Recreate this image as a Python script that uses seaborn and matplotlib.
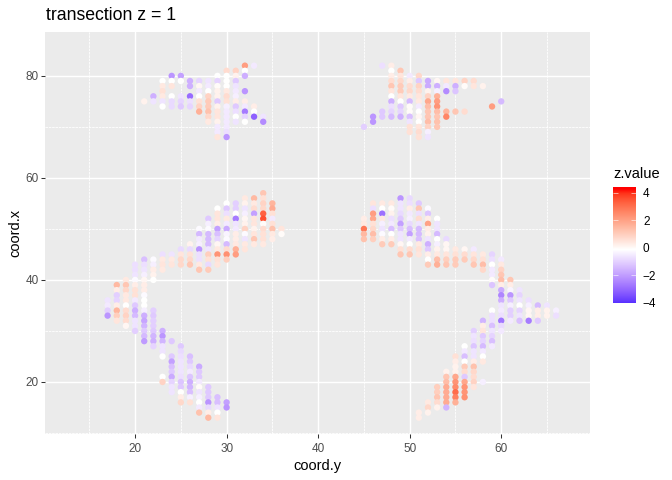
import numpy as np
import pandas as pd
import matplotlib
matplotlib.use("Agg")
import matplotlib.pyplot as plt
from matplotlib.cm import ScalarMappable
from matplotlib.colors import LinearSegmentedColormap, Normalize, to_rgb
from matplotlib.ticker import MultipleLocator
import seaborn as sns

# -----------------------------
# Data: one entry per coord.y column, z runs downward from col_top (None = no spot)
# -----------------------------
N = None

top_left_y = [21, 22, 23, 24, 25, 26, 27, 28, 29, 30, 31, 32, 33, 34]
top_left_top = [75, 76, 79, 80, 80, 79, 79, 79, 80, 81, 81, 82, 82, 72]
top_left_z = [
    [.3], [-1.5, -.5], [0, .5, .7, .5, -.5, 0], [-2, 0, .6, N, 0, -.7, -.7],
    [-1.8, 0, N, N, -.5, -.8, -1], [-1.5, -1.5, N, -2.8, -.6, -.8],
    [-.8, .2, -.4, 0, .7, 1, 1.8], [-.5, -.4, 0, 1, 1.2, 1.2, 1.4, .9, .5],
    [0, -.8, .1, .3, .3, -1, .3, .6, .6, .3, -.4, -.4, .6],
    [.8, 0, 0, 0, .5, .8, .7, -.3, -.4, -.4, -.4, -.4, -.6, -2],
    [1, .3, -1, -.5, -.4, -.3, .4, -1, -.6, 0, -.5],
    [2.2, 0, -1.5, N, N, -2, N, .4, -.4, -2.5, -.8, 0],
    [-.4, N, N, N, N, N, N, N, .4, 0, -3], [-.5, -2.2],
]

top_right_y = [45, 46, 47, 48, 49, 50, 51, 52, 53, 54, 55, 56, 57, 58, 59, 60]
top_right_top = [70, 72, 82, 82, 81, 80, 80, 79, 79, 79, 79, 79, 79, 78, 74, 75]
top_right_z = [
    [-.9], [-2, -2], [-.6, N, N, N, N, N, N, N, N, -1, -1],
    [.4, 0, .4, .8, 1.3, .6, 0, -1.5, -.6, -.8, -1.3],
    [1.3, .6, .9, 1.2, 1.2, .6, 0, -1, -.8, -1.5],
    [-.4, .4, .8, .9, .5, -1.3, .1, .1, -1.2, -.5, .7, .7],
    [.9, -1, 1, .8, .6, .5, -.4, 0, .2, 0, .6, .8, .7],
    [-1.6, -1.6, .3, 1, 2, 1.5, 1.3, 1.3, 1.5, 1, -.3, -.5],
    [.2, -1.5, -.3, 1.8, 2.2, 2.4, 1.5, 1.3, 1.4, 1.3],
    [.6, -.4, -2.2, N, N, N, 1.7, 2.7], [.6, -1.5, -1.1, N, N, N, 1.3],
    [1, .1, N, N, N, N, .8], [.8, .6], [.3], [2.2], [-1.3],
]

mid_left_y = [24, 25, 26, 27, 28, 29, 30, 31, 32, 33, 34, 35, 36]
mid_left_top = [45, 46, 47, 50, 52, 54, 55, 55, 56, 56, 57, 55, 50]
mid_left_z = [
    [-.5, .5, .6], [-.7, .6, .9, .9], [.3, -.7, .7, .9, 1.3],
    [-.1, -1.3, -.4, -.3, -2, -.6, -.6, .5, 1.3],
    [-1, -.3, -.1, -1.3, -1.3, -1.3, -.5, 1.1, .7, -.7, 1.2],
    [0, .6, .6, .4, -1.8, -1.2, -.8, .2, .5, 2.4, .7, .6],
    [0, -1, -.6, .5, -.4, -1.6, -.2, -.1, -1.3, .8, 2.5, 1.1],
    [-.9, -.9, 0, -2.5, -.5, -.4, .4, .4, .5, 1.8, 2.2],
    [.5, .3, -.5, -.3, .2, .3, 1, -.1, -.5, .5, .6],
    [1.6, .5, .8, -1.8, .6, .6, .3, .6, 1.3, .5],
    [1.3, .7, 1, .9, 3.4, 3.7, .1, .8, .7, .7, .5],
    [1.7, 1.9, .7, -.4, .7, 1.4, .5, .4], [.6, .1],
]

arm_left_y = [17, 18, 19, 20, 21, 22, 23]
arm_left_top = [36, 39, 40, 43, 44, 44, 45]
arm_left_z = [
    [-.5, -.4, -.9, -2], [1.6, .4, -.9, -.8, .4, 1.7, 1.1, .6],
    [.5, 1.3, .9, .5, .5, 0, .8, 1, .8, .2],
    [-.6, -.6, -.5, -.1, .4, .7, .7, -.4, -1, -1.5, -1.3, -.5, -.5, -.9],
    [-1.2, -.6, -.5, -.3, .2, .4, .4, -.1, 0, 0, -.3, -1.5, -1.7, -1.4, -1, -1.3, -1.9],
    [-.1, -.3, .4, .3, 0, N, N, N, N, N, -.9, -1, -.9, -.9, -1, -1.4, -1.5, -.8],
    [-.6, .5, .6, .5, N, N, N, N, N, N, N, N, N, N, N, -1.5, -2, -1.4, -.5, -.5, 0, N, N, N, 0, 1],
]

low_left_y = [24, 25, 26, 27, 28, 29, 30]
low_left_top = [28, 27, 25, 23, 19, 17, 16]
low_left_z = [
    [-1, N, N, -1, -1.8, -1.2, -1, -1.6, -.8, -.5, -.5],
    [-1, -.7, -.6, -.5, -.5, -.5, -.6, -1.1, -1, 0, .4, .9],
    [-1.2, -1, -.7, -.4, -1.1, -1.5, -1.4, -1.2, -.3, .7],
    [-1.6, -1, -1, -.4, .1, -.5, -.3, 0, -.4, 1.4],
    [-1, -1, -1, -2, -.7, .4, 1.6], [-1.2, -1.2, -.5, 0, .6], [-1.8, -2],
]

mid_right_y = [45, 46, 47, 48, 49, 50, 51, 52, 53, 54, 55, 56, 57, 58, 59, 60, 61, 62, 63, 64, 65, 66]
mid_right_top = [52, 55, 55, 55, 56, 56, 55, 54, 52, 48, 46, 46, 46, 45, 45, 44, 40, 38, 36, 35, 35, 34]
mid_right_z = [
    [.4, .5, 3, 1.6, 1.4], [.6, -.6, 2.2, 2, .7, .9, 1.5, 1.1],
    [.5, 0, -2.7, .5, -.3, -.5, -.1, .4, 1.2], [.5, .1, .3, -.6, -.4, -1.2, 0, .4, 1.2],
    [-2, -.5, -.5, -.7, -1, -1.8, -1, -.5, -.5, .2, .7, 1.3],
    [-.7, -.6, .4, -.4, -.3, -.7, -1.2, -1.8, -.4, 0, .8, 1.3],
    [-1, 1.3, -.6, .8, -.5, -1.3, -1.3, -1.2, .5, .7, .6],
    [-.1, -1.1, .4, 2.1, .4, .3, -.5, -1.5, -1, .4, 0, 1.2],
    [0, -.5, -.5, -1.3, 0, -.3, .3, .5, 1.5, 1.8], [-.7, .2, .2, .6, 1.1, 1.3],
    [.5, .7, 1.2, 1.2], [.2, .8, 1.2], [-.4, .6, .9, 1.3], [.5, .7, 1.5, .9],
    [-.8, -.6, 0, -.4, -.4, .1, -1.1],
    [-.4, .5, 1, 1.3, 1.5, .4, -1.6, -2.3, -1.5, -.5, -.4, -.6, -2.6, -.7, -.4],
    [1.3, .4, -.2, -2, -1, -.3, -.9, -.9, -.4], [-.5, -.8, -.5, 0, -.8, -.5, -1.2],
    [-.6, -.3, .2, .2, -2.5], [-1.3, .4, .4, -1], [-.5, .3, .3], [-.3, -.6],
]

low_right_y = [51, 52, 53, 54, 55, 56, 57, 58, 59]
low_right_top = [14, 16, 19, 22, 25, 27, 30, 32, 34]
low_right_z = [
    [.4, .4], [.5, .9, .3], [1.1, 1.1, 1.3, .8, .3], [.3, 1.3, 1.5, 1.9, 1.9, 1.9, 1.9, -1.4],
    [.7, .4, .3, .3, 2, 2.4, 2.6, 3.2, 2.8, 1.8],
    [0, -.4, -1.2, 0, 1.2, .8, -1, 2, 2.4, 2.4, 2.5],
    [-.9, -.5, -.6, -1.1, -.5, -.5, .4, 1.4, .9, .8, 1, .6],
    [-1.4, .4, .6, -1, -.8, -1.3, -.4, 0, .5, N, N, N, -.3],
    [0, -.6, -.6, -1.2, -.5, -.8, -1.2, -.4],
]

legend_ticks = [-4, -2, 0, 2, 4]

rows = []
clusters = [
    (top_left_y, top_left_top, top_left_z), (top_right_y, top_right_top, top_right_z),
    (mid_left_y, mid_left_top, mid_left_z), (arm_left_y, arm_left_top, arm_left_z),
    (low_left_y, low_left_top, low_left_z), (mid_right_y, mid_right_top, mid_right_z),
    (low_right_y, low_right_top, low_right_z),
]
for ys, tops, zs in clusters:
    for y, top, col in zip(ys, tops, zs):
        for i, z in enumerate(col):
            if z is not None:
                rows.append({"coord.y": y, "coord.x": top - i, "z.value": z})
df = pd.DataFrame(rows)


# -----------------------------
# Colour scale: blue-white-red mixed in Lab, like scale_colour_gradient2
# -----------------------------
M = np.array([[.4124, .3576, .1805], [.2126, .7152, .0722], [.0193, .1192, .9505]])
WHITE = M.sum(axis=1)


def to_lab(c):
    c = np.array(to_rgb(c))
    lin = np.where(c > .04045, ((c + .055) / 1.055) ** 2.4, c / 12.92)
    t = M @ lin / WHITE
    f = np.where(t > .008856, np.cbrt(t), 7.787 * t + 16 / 116)
    return np.array([116 * f[1] - 16, 500 * (f[0] - f[1]), 200 * (f[1] - f[2])])


def from_lab(lab):
    fy = (lab[0] + 16) / 116
    f = np.array([fy + lab[1] / 500, fy, fy - lab[2] / 200])
    t = np.where(f > .2069, f ** 3, (f - 16 / 116) / 7.787)
    lin = np.clip(np.linalg.solve(M, t * WHITE), 0, 1)
    return np.clip(np.where(lin > .0031308, 1.055 * lin ** (1 / 2.4) - .055, 12.92 * lin), 0, 1)


steps = np.linspace(0, 1, 17)
low = [from_lab(to_lab("blue") * (1 - s) + to_lab("white") * s) for s in steps]
high = [from_lab(to_lab("white") * (1 - s) + to_lab("red") * s) for s in steps[1:]]
cmap = LinearSegmentedColormap.from_list("gradient2", low + high, N=512)
norm = Normalize(-4.4, 4.4)

# -----------------------------
# Plot
# -----------------------------
sns.set_theme(style="darkgrid", rc={"axes.facecolor": "#EBEBEB", "grid.color": "white"})
plt.rcParams["font.family"] = ["Liberation Sans", "DejaVu Sans"]

W, H = 672, 480
fig = plt.figure(figsize=(W / 100, H / 100), dpi=100)
ax = fig.add_axes([45 / W, 1 - 434 / H, 545 / W, 402 / H])

sns.scatterplot(data=df, x="coord.y", y="coord.x", hue="z.value", palette=cmap, hue_norm=norm,
                s=21, linewidth=0, legend=False, zorder=3, ax=ax)

ax.set_xlim(10.16, 69.7)
ax.set_ylim(9.8, 88.6)
ax.xaxis.set_major_locator(MultipleLocator(10))
ax.yaxis.set_major_locator(MultipleLocator(20))
ax.xaxis.set_minor_locator(MultipleLocator(5))
ax.yaxis.set_minor_locator(MultipleLocator(10))
ax.grid(which="major", color="white", linewidth=1.05)
ax.grid(which="minor", color="white", linewidth=.6, linestyle=(0, (3, 1)))
ax.tick_params(which="major", length=2.6, width=.75, color="#333333", labelcolor="#4D4D4D",
               labelsize=8.45, pad=1.8, bottom=True, left=True)
ax.tick_params(axis="x", which="major", pad=3.6)
ax.tick_params(which="minor", length=0)
for side in ax.spines.values():
    side.set_visible(False)
ax.set_xlabel("coord.y", fontsize=10.56, color="black", labelpad=3.5)
ax.set_ylabel("coord.x", fontsize=10.56, color="black", labelpad=2)
fig.text(46 / W, 1 - 20 / H, "transection z = 1", fontsize=12.67, color="black", va="baseline")

# legend
cax = fig.add_axes([613 / W, 1 - 302.7 / H, 23 / W, 115.7 / H])
bar = fig.colorbar(ScalarMappable(norm=norm, cmap=cmap), cax=cax)
cax.set_ylim(-4, 4.4)
bar.set_ticks(legend_ticks)
bar.outline.set_visible(False)
bar.solids.set_edgecolor("face")
cax.tick_params(length=0, labelsize=8.45, labelcolor="black", pad=5)
trans = cax.get_yaxis_transform()
cax.hlines(legend_ticks, 0, .2, color="white", linewidth=.4, transform=trans)
cax.hlines(legend_ticks, .8, 1, color="white", linewidth=.4, transform=trans)
fig.text(613 / W, 1 - 178 / H, "z.value", fontsize=10.56, color="black", va="baseline")

plt.savefig("out.png", dpi=100)
plt.close()
